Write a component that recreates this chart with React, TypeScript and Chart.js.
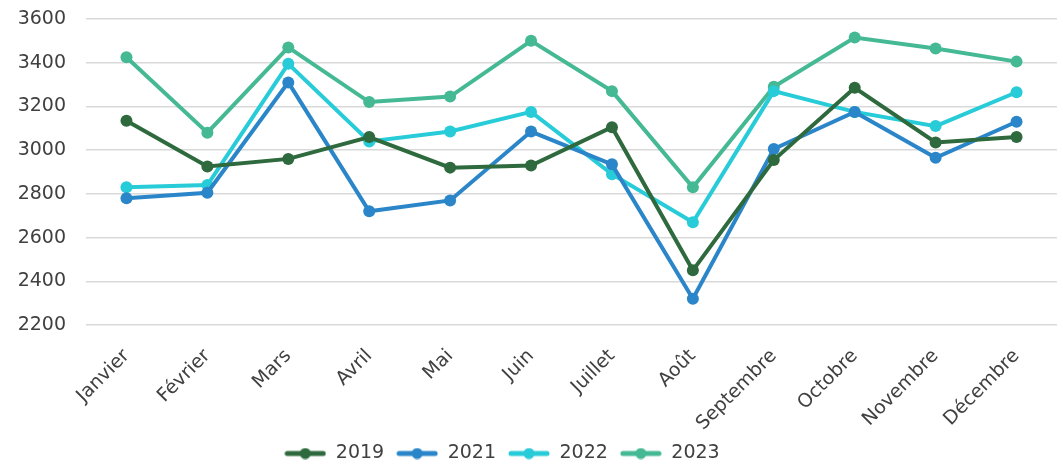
import { useEffect, useRef } from "react"
import { Chart, registerables } from "chart.js"

Chart.register(...registerables)

const months = ["Janvier", "Février", "Mars", "Avril", "Mai", "Juin", "Juillet", "Août", "Septembre", "Octobre", "Novembre", "Décembre"]
const years = ["2019", "2021", "2022", "2023"]
const colors = ["#2e6a3e", "#2a86c8", "#28cbd8", "#45b994"]

const v2019 = [3135, 2925, 2960, 3060, 2920, 2930, 3105, 2450, 2955, 3285, 3035, 3060]
const v2021 = [2780, 2805, 3310, 2720, 2770, 3085, 2935, 2320, 3005, 3175, 2965, 3130]
const v2022 = [2830, 2840, 3395, 3040, 3085, 3175, 2890, 2670, 3270, 3175, 3110, 3265]
const v2023 = [3425, 3080, 3470, 3220, 3245, 3500, 3270, 2830, 3290, 3515, 3465, 3405]
const series = [v2019, v2021, v2022, v2023]

const FONT = "'DejaVu Sans', sans-serif"

// little line + dot swatch for the legend
function swatch(color: string) {
  const c = document.createElement("canvas")
  c.width = 42
  c.height = 12
  const g = c.getContext("2d")!
  g.strokeStyle = color
  g.lineWidth = 5
  g.lineCap = "round"
  g.beginPath()
  g.moveTo(3, 6)
  g.lineTo(39, 6)
  g.stroke()
  g.fillStyle = color
  g.beginPath()
  g.arc(21, 6, 5.5, 0, Math.PI * 2)
  g.fill()
  return c
}

// the legend sits a bit left of centre in the original
const legendShift = {
  id: "legendShift",
  afterLayout(chart: Chart) {
    const l = chart.legend
    if (!l) return
    l.left -= 28
    l.right -= 28
  },
}

export default function App() {
  const chartRef = useRef<HTMLCanvasElement>(null)
  const chartInstance = useRef<Chart | null>(null)

  useEffect(() => {
    if (!chartRef.current) return
    const ctx = chartRef.current.getContext("2d")
    if (!ctx) return

    if (chartInstance.current) chartInstance.current.destroy()

    const swatches = colors.map(swatch)

    chartInstance.current = new Chart(ctx, {
      type: "line",
      data: {
        labels: months,
        datasets: years.map((y, i) => ({
          label: y,
          data: series[i],
          borderColor: colors[i],
          backgroundColor: colors[i],
          borderWidth: 4,
          pointRadius: 6,
          pointBackgroundColor: colors[i],
          pointBorderWidth: 0,
          tension: 0,
        })),
      },
      plugins: [legendShift],
      options: {
        animation: false,
        responsive: true,
        maintainAspectRatio: false,
        layout: { padding: { top: 19, right: 3, left: 0, bottom: -4 } },
        plugins: {
          tooltip: { enabled: false },
          legend: {
            position: "bottom",
            labels: {
              color: "#404040",
              font: { family: FONT, size: 19 },
              usePointStyle: true,
              pointStyleWidth: 42,
              padding: 12,
              generateLabels: (chart) =>
                Chart.defaults.plugins.legend.labels.generateLabels(chart).map((l, i) => ({
                  ...l,
                  pointStyle: swatches[i],
                })),
            },
          },
        },
        scales: {
          x: {
            offset: true,
            grid: { display: false },
            border: { display: false },
            ticks: {
              color: "#404040",
              font: { family: FONT, size: 19 },
              minRotation: 45,
              maxRotation: 45,
              autoSkip: false,
              padding: 12,
            },
            afterFit: (scale: any) => {
              scale.height = 107
              scale.paddingLeft = 0
              scale.paddingRight = 0
            },
          },
          y: {
            min: 2200,
            max: 3600,
            grid: { color: "#d9d9d9", lineWidth: 1.5, drawTicks: false },
            border: { display: false },
            ticks: {
              stepSize: 200,
              color: "#404040",
              font: { family: FONT, size: 19 },
              padding: 20,
              callback: (v) => String(v),
            },
            afterFit: (scale: any) => {
              scale.width = 86
              scale.paddingTop = 0
              scale.paddingBottom = 0
            },
          },
        },
      },
    })

    return () => {
      if (chartInstance.current) {
        chartInstance.current.destroy()
        chartInstance.current = null
      }
    }
  }, [])

  return (
    <div style={{ position: "fixed", left: 0, top: 0, width: 1063, height: 469, background: "#fff" }}>
      <canvas ref={chartRef}></canvas>
    </div>
  )
}
